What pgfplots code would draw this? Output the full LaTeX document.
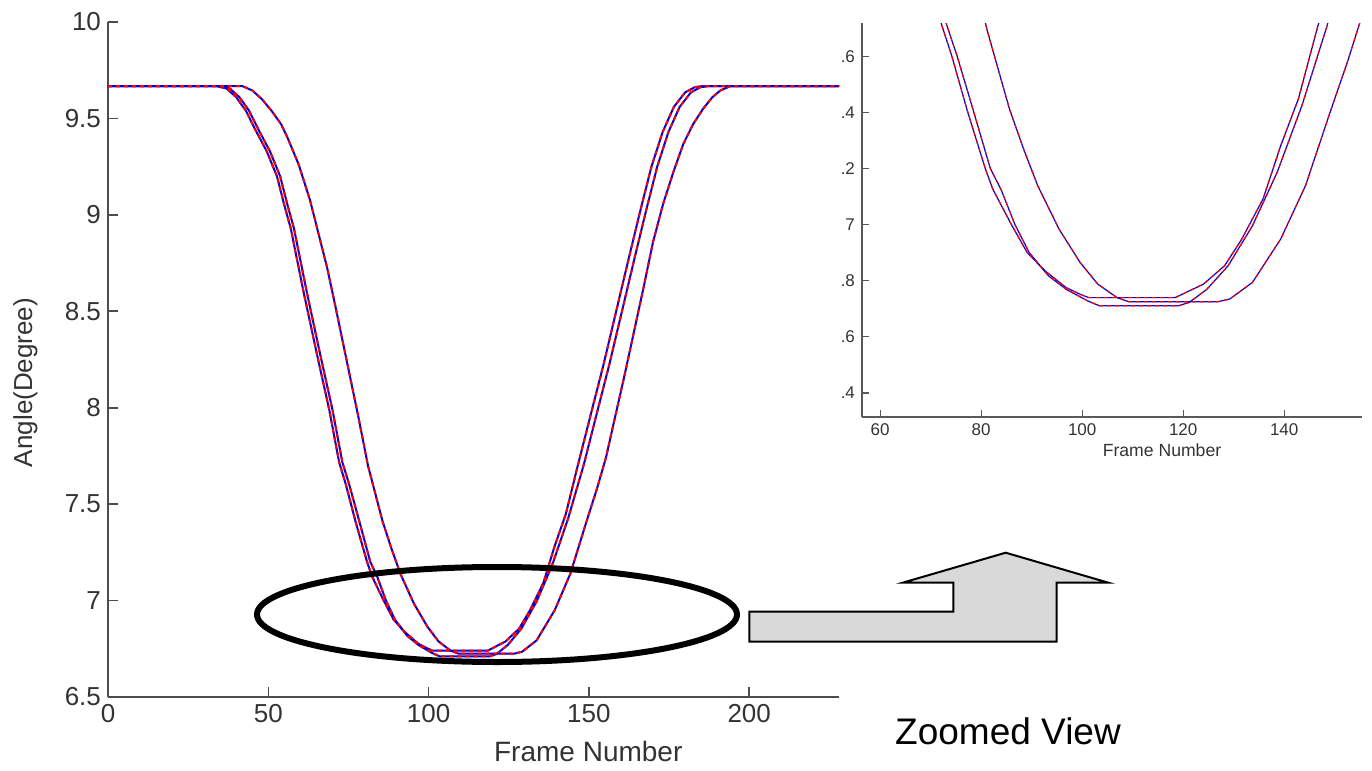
\documentclass[border=0pt]{standalone}
\usepackage{pgfplots}
\usepackage{pgfplotstable}
\pgfplotsset{compat=1.18}
\usepackage{fontspec}
\setmainfont{Liberation Sans}

\pgfplotstableread{
x y
0 9.667
34 9.667
37 9.655
40 9.61
43 9.54
46 9.44
49.5 9.33
52.7 9.2
55 9.05
57 8.93
61 8.60
65 8.29
69 7.99
72.1 7.717
74.15 7.604
77.3 7.404
80.8 7.201
82.3 7.127
86.0 7.0
89.1 6.901
92.6 6.836
96.8 6.776
99.6 6.752
101.3 6.74
118.4 6.74
120.5 6.758
124 6.788
128.2 6.854
131.6 6.949
135.8 7.092
139.3 7.282
142.8 7.449
146.6 7.705
150.5 7.96
154.5 8.22
158.5 8.5
162.5 8.78
166 9.02
169.5 9.25
173 9.43
176.5 9.56
180 9.635
183 9.662
185 9.667
230 9.667
}\curveA

\pgfplotstableread{
x y
0 9.667
35 9.667
38 9.655
41 9.61
44 9.54
47 9.44
50.5 9.33
53.7 9.2
56 9.05
58 8.93
62 8.60
66 8.29
70 7.99
73.1 7.717
75.2 7.604
78.5 7.404
81.8 7.201
83.9 7.127
86.7 7.0
89.5 6.901
93.3 6.818
96.8 6.77
101 6.729
103.4 6.711
119.1 6.711
121.2 6.723
124.7 6.77
128.9 6.854
133.7 6.996
138.6 7.187
143.5 7.425
148.4 7.705
152.3 7.96
156.3 8.22
160.3 8.5
164.3 8.78
167.8 9.02
171.3 9.25
174.8 9.43
178.3 9.56
181.8 9.635
184.8 9.662
187 9.667
230 9.667
}\curveB

\pgfplotstableread{
x y
0 9.667
42 9.667
45 9.645
48 9.60
51 9.54
54 9.47
56 9.40
59.5 9.26
63 9.077
66 8.88
68.3 8.73
71 8.52
73 8.36
75.5 8.16
78 7.96
81.1 7.699
85.6 7.413
88.4 7.27
91.2 7.139
95.4 6.985
99.6 6.865
103.1 6.788
106.9 6.74
109.3 6.725
126.8 6.725
129.2 6.735
133.7 6.794
139.3 6.949
144.2 7.139
149.3 7.413
152.5 7.58
155.3 7.74
158 7.94
161 8.16
164 8.39
167 8.62
170 8.86
173.2 9.06
176.5 9.23
179.5 9.37
182.5 9.47
185.6 9.55
188.5 9.61
191 9.645
194 9.667
230 9.667
}\curveC

\pgfplotsset{
  bluered/.style={blue!85!black, line width=#1},
  redover/.style={red, line width=#1, dash pattern=on 2pt off 2pt},
}

\begin{document}
\begin{tikzpicture}
\begin{scope}[x=0.5pt, y=-0.5pt]
\path[use as bounding box] (0,0) rectangle (1372,771);
\end{scope}

% main plot
\begin{axis}[
  at={(54pt,-348.5pt)}, anchor=south west,
  scale only axis, width=365.5pt, height=337.5pt,
  xmin=0, xmax=228, ymin=6.5, ymax=10,
  axis lines*=left,
  axis line style={black!70, line width=1pt},
  xtick={0,50,...,200}, ytick={6.5,7,...,10},
  tick align=inside, major tick length=5pt,
  tick style={black!70, line width=0.8pt},
  ticklabel style={font=\fontsize{13}{13}\selectfont, text=black!80},
  /pgf/number format/assume math mode=true,
  xlabel={Frame Number}, ylabel={Angle(Degree)},
  xlabel style={at={(axis description cs:0.657,-0.081)}, anchor=center,
    font=\fontsize{14}{14}\selectfont, text=black!80},
  ylabel style={at={(axis description cs:-0.113,0.466)}, anchor=center,
    font=\fontsize{13}{13}\selectfont, text=black!80},
]
\addplot[bluered=1pt] table {\curveA};
\addplot[redover=1pt] table {\curveA};
\addplot[bluered=1pt] table {\curveB};
\addplot[redover=1pt] table {\curveB};
\addplot[bluered=1pt] table {\curveC};
\addplot[redover=1pt] table {\curveC};
\end{axis}

% zoomed inset
\begin{axis}[
  at={(431pt,-208.5pt)}, anchor=south west,
  scale only axis, width=250pt, height=197pt,
  xmin=56.4, xmax=155.4, ymin=6.314, ymax=7.72,
  axis lines*=left,
  axis line style={black!65, line width=1pt},
  xtick={60,80,...,140},
  ytick={6.4,6.6,6.8,7,7.2,7.4,7.6},
  yticklabels={.4,.6,.8,7,.2,.4,.6},
  tick align=inside, major tick length=3.5pt,
  tick style={black!65, line width=0.6pt},
  ticklabel style={font=\fontsize{8.5}{8.5}\selectfont, text=black!80},
  /pgf/number format/assume math mode=true,
  xlabel={Frame Number},
  xlabel style={at={(axis description cs:0.6,-0.084)}, anchor=center,
    font=\fontsize{8.8}{8.8}\selectfont, text=black!80},
]
\addplot[bluered=0.6pt] table {\curveA};
\addplot[redover=0.6pt] table {\curveA};
\addplot[bluered=0.6pt] table {\curveB};
\addplot[redover=0.6pt] table {\curveB};
\addplot[bluered=0.6pt] table {\curveC};
\addplot[redover=0.6pt] table {\curveC};
\end{axis}

% annotations
\begin{scope}[x=0.5pt, y=-0.5pt]
\draw[black, line width=3pt] (497,614.5) ellipse [x radius=240, y radius=47.5];
\draw[black, line width=1pt, fill=black!15]
  (749.3,641.7) -- (749.3,611.7) -- (953.3,611.7) -- (953.3,582.7)
  -- (902.7,582.7) -- (1005.7,552.7) -- (1108.3,582.7) -- (1056.7,582.7)
  -- (1056.7,641.7) -- cycle;
\node[font=\fontsize{18.5}{18.5}\selectfont] at (1008,731) {Zoomed View};
\end{scope}
\end{tikzpicture}
\end{document}
